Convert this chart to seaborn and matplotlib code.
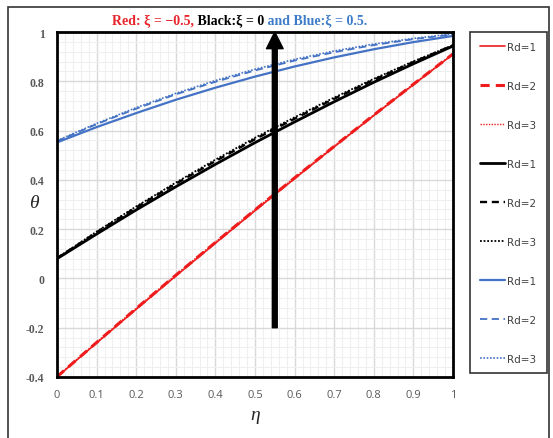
import numpy as np
import pandas as pd
import seaborn as sns
import matplotlib.pyplot as plt
from matplotlib.patches import Rectangle
from matplotlib.offsetbox import TextArea, HPacker, AnchoredOffsetbox
from matplotlib.ticker import MultipleLocator

# datos
eta = [0.0, 0.1, 0.2, 0.3, 0.4, 0.5, 0.6, 0.7, 0.8, 0.9, 1.0]

red_rd1 = [-0.400, -0.262, -0.125, 0.010, 0.143, 0.275, 0.405, 0.534, 0.661, 0.786, 0.910]
red_rd2 = [-0.399, -0.260, -0.122, 0.013, 0.146, 0.278, 0.408, 0.536, 0.663, 0.788, 0.911]
red_rd3 = [-0.398, -0.259, -0.121, 0.015, 0.148, 0.280, 0.410, 0.538, 0.664, 0.789, 0.911]

black_rd1 = [0.080, 0.180, 0.278, 0.372, 0.463, 0.551, 0.635, 0.717, 0.796, 0.871, 0.943]
black_rd2 = [0.082, 0.187, 0.288, 0.384, 0.476, 0.565, 0.648, 0.729, 0.806, 0.878, 0.946]
black_rd3 = [0.083, 0.190, 0.292, 0.389, 0.482, 0.571, 0.654, 0.734, 0.810, 0.881, 0.947]

blue_rd1 = [0.552, 0.614, 0.671, 0.725, 0.774, 0.819, 0.860, 0.897, 0.930, 0.959, 0.984]
blue_rd2 = [0.557, 0.626, 0.689, 0.747, 0.798, 0.844, 0.884, 0.918, 0.947, 0.971, 0.990]
blue_rd3 = [0.559, 0.629, 0.693, 0.751, 0.803, 0.849, 0.889, 0.923, 0.951, 0.974, 0.992]

series = [
    ("Rd=1", red_rd1, "#ee1c1c", "-", 1.2),
    ("Rd=2", red_rd2, "#ee1c1c", (0, (3, 2)), 2.2),
    ("Rd=3", red_rd3, "#ee1c1c", (0, (1, 1)), 1.0),
    ("Rd=1", black_rd1, "black", "-", 2.0),
    ("Rd=2", black_rd2, "black", (0, (3, 2)), 1.7),
    ("Rd=3", black_rd3, "black", (0, (1, 1)), 1.3),
    ("Rd=1", blue_rd1, "#4472c4", "-", 1.6),
    ("Rd=2", blue_rd2, "#4472c4", (0, (4, 2.5)), 1.3),
    ("Rd=3", blue_rd3, "#4472c4", (0, (1, 1)), 1.2),
]

sns.set_style("white")
fig = plt.figure(figsize=(5.53, 4.39), dpi=100)
ax = fig.add_axes([57 / 553, 1 - 378 / 439, 396 / 553, 345 / 439])

for label, vals, color, ls, lw in series:
    df = pd.DataFrame({"eta": eta, "theta": vals})
    sns.lineplot(data=df, x="eta", y="theta", color=color, linestyle=ls,
                 linewidth=lw, label=label, ax=ax)

# flecha
ax.annotate("", xy=(0.55, 1.0), xytext=(0.55, -0.2),
            arrowprops=dict(facecolor="black", edgecolor="black", width=3.5,
                            headwidth=12, headlength=12))

ax.set_xlim(0, 1)
ax.set_ylim(-0.4, 1)
ax.xaxis.set_major_locator(MultipleLocator(0.1))
ax.xaxis.set_minor_locator(MultipleLocator(0.02))
ax.yaxis.set_major_locator(MultipleLocator(0.2))
ax.yaxis.set_minor_locator(MultipleLocator(0.04))
ax.grid(which="major", color="#d9d9d9", linewidth=1.0)
ax.grid(which="minor", color="#efefef", linewidth=0.8)
ax.set_axisbelow(True)

ax.set_xticks(eta)
ax.set_xticklabels(["0", "0.1", "0.2", "0.3", "0.4", "0.5", "0.6", "0.7", "0.8", "0.9", "1"],
                   fontsize=8, color="#595959", family="Open Sans")
yt = [-0.4, -0.2, 0, 0.2, 0.4, 0.6, 0.8, 1]
ax.set_yticks(yt)
ax.set_yticklabels(["-0.4", "-0.2", "0", "0.2", "0.4", "0.6", "0.8", "1"],
                   fontsize=8.5, color="#595959", family="Liberation Serif", fontweight="bold")
ax.tick_params(length=0, pad=9)

for s in ax.spines.values():
    s.set_color("black")
    s.set_linewidth(2)

ax.set_xlabel("η", fontsize=14, style="italic", family="Liberation Serif", labelpad=4)
ax.set_ylabel("θ", fontsize=14, style="italic", family="Liberation Serif", rotation=0, labelpad=14)
ax.yaxis.set_label_coords(-0.058, 0.48)

# leyenda
leg = ax.legend(loc="upper left", bbox_to_anchor=(470 / 553, 1 - 33 / 439), bbox_transform=fig.transFigure,
                borderaxespad=0, fontsize=7.5, labelspacing=2.78, handlelength=2.4, handletextpad=0.25,
                borderpad=0.95, frameon=True, fancybox=False, edgecolor="black")
leg.get_frame().set_linewidth(1.2)
for t in leg.get_texts():
    t.set_color("#404040")

# titulo de colores
parts = [("Red: ξ = −0.5,", "#e8232a"), (" Black:ξ = 0", "black"), (" and Blue:ξ = 0.5.", "#3d7cc9")]
boxes = [TextArea(t, textprops=dict(color=c, fontsize=10, fontweight="bold", family="Liberation Serif"))
         for t, c in parts]
pack = HPacker(children=boxes, align="baseline", pad=0, sep=0)
anch = AnchoredOffsetbox(loc="center", child=pack, frameon=False,
                         bbox_to_anchor=(240 / 553, 1 - 22 / 439), bbox_transform=fig.transFigure)
fig.add_artist(anch)

# marco exterior
fig.add_artist(Rectangle((8 / 553, -0.02), 541 / 553, 1 - 8 / 439 + 0.02, transform=fig.transFigure,
                         fill=False, edgecolor="#333333", linewidth=1.2))

fig.savefig("out.png", dpi=100)
